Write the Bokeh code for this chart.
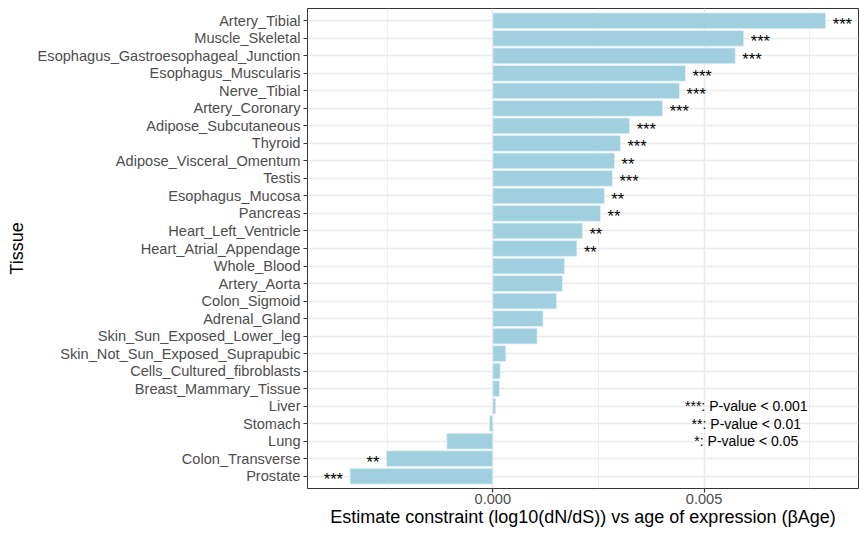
from bokeh.plotting import figure
from bokeh.models import ColumnDataSource, FactorRange, Range1d, FixedTicker, NumeralTickFormatter
from bokeh.core.properties import value
from bokeh.embed import file_html
from bokeh.resources import INLINE

tissues = [
    "Artery_Tibial", "Muscle_Skeletal", "Esophagus_Gastroesophageal_Junction",
    "Esophagus_Muscularis", "Nerve_Tibial", "Artery_Coronary", "Adipose_Subcutaneous",
    "Thyroid", "Adipose_Visceral_Omentum", "Testis", "Esophagus_Mucosa", "Pancreas",
    "Heart_Left_Ventricle", "Heart_Atrial_Appendage", "Whole_Blood", "Artery_Aorta",
    "Colon_Sigmoid", "Adrenal_Gland", "Skin_Sun_Exposed_Lower_leg",
    "Skin_Not_Sun_Exposed_Suprapubic", "Cells_Cultured_fibroblasts",
    "Breast_Mammary_Tissue", "Liver", "Stomach", "Lung", "Colon_Transverse", "Prostate",
]
beta_age = [
    0.00788, 0.00594, 0.00574, 0.00456, 0.00442, 0.00402, 0.00324,
    0.00302, 0.00288, 0.00283, 0.00264, 0.00255, 0.00212, 0.00199,
    0.00170, 0.00165, 0.00151, 0.00119, 0.00105, 0.00031, 0.000175,
    0.00016, 0.00007, -0.00008, -0.00109, -0.00252, -0.00338,
]
signif = [
    "***", "***", "***", "***", "***", "***", "***",
    "***", "**", "***", "**", "**", "**", "**",
    "", "", "", "", "", "", "",
    "", "", "", "", "**", "***",
]
legend_lines = ["***: P-value < 0.001", "**: P-value < 0.01", "*: P-value < 0.05"]
legend_rows = ["Liver", "Stomach", "Lung"]
legend_x = 0.006

FONT = "Liberation Sans"

p = figure(
    width=859, height=535, output_backend="svg", toolbar_location=None,
    x_range=Range1d(-0.004387, 0.008656),
    y_range=FactorRange(factors=list(reversed(tissues)), range_padding=0.2,
                        range_padding_units="absolute"),
    min_border_left=307, min_border_right=1, min_border_top=8, min_border_bottom=47,
)
p.background_fill_color = "white"
p.border_fill_color = "white"
p.outline_line_color = "#333333"
p.outline_line_width = 1

src = ColumnDataSource(dict(tissue=tissues, beta=beta_age, sig=signif))
p.hbar(y="tissue", right="beta", left=0, height=0.9, source=src,
       fill_color="#A0CFE0", line_color="#E4F2F7", line_width=0.8)

pos = ColumnDataSource(dict(
    tissue=[t for t, b in zip(tissues, beta_age) if b >= 0],
    beta=[b for b in beta_age if b >= 0],
    sig=[s for s, b in zip(signif, beta_age) if b >= 0]))
neg = ColumnDataSource(dict(
    tissue=[t for t, b in zip(tissues, beta_age) if b < 0],
    beta=[b for b in beta_age if b < 0],
    sig=[s for s, b in zip(signif, beta_age) if b < 0]))
p.text(x="beta", y="tissue", text="sig", source=pos, x_offset=7, y_offset=3,
       text_align="left", text_baseline="middle", text_font=value(FONT),
       text_font_size="16.5px", text_color="black")
p.text(x="beta", y="tissue", text="sig", source=neg, x_offset=-7, y_offset=3,
       text_align="right", text_baseline="middle", text_font=value(FONT),
       text_font_size="16.5px", text_color="black")

leg = ColumnDataSource(dict(x=[legend_x] * 3, y=legend_rows, t=legend_lines))
p.text(x="x", y="y", text="t", source=leg, text_align="center", text_baseline="middle",
       text_font=value(FONT), text_font_size="14px", text_color="black")

# grid
p.xgrid.ticker = FixedTicker(ticks=[0.0, 0.005], minor_ticks=[-0.0025, 0.0025, 0.0075])
p.xgrid.grid_line_color = "#EBEBEB"
p.xgrid.grid_line_width = 1.6
p.xgrid.minor_grid_line_color = "#EBEBEB"
p.xgrid.minor_grid_line_width = 0.8
p.ygrid.grid_line_color = "#EBEBEB"
p.ygrid.grid_line_width = 1.6
p.grid.level = "underlay"

# axes
p.xaxis.ticker = FixedTicker(ticks=[0.0, 0.005], minor_ticks=[])
p.xaxis.formatter = NumeralTickFormatter(format="0.000")
p.xaxis.axis_label = "Estimate constraint (log10(dN/dS)) vs age of expression (\u03b2Age)"
p.yaxis.axis_label = "Tissue"
for ax in (p.xaxis, p.yaxis):
    ax.axis_line_color = None
    ax.major_tick_line_color = "#333333"
    ax.major_tick_line_width = 1.2
    ax.major_tick_out = 4
    ax.major_tick_in = 0
    ax.minor_tick_line_color = None
    ax.major_label_text_font = FONT
    ax.major_label_text_font_size = "14.6px"
    ax.major_label_text_color = "#4D4D4D"
    ax.axis_label_text_font = FONT
    ax.axis_label_text_font_size = "18px"
    ax.axis_label_text_font_style = "normal"
    ax.axis_label_text_color = "black"
p.xaxis.major_label_standoff = 1
p.xaxis.axis_label_standoff = 0
p.yaxis.major_label_standoff = 3
p.yaxis.axis_label_standoff = 8

open("out.html", "w").write(file_html(p, INLINE))
